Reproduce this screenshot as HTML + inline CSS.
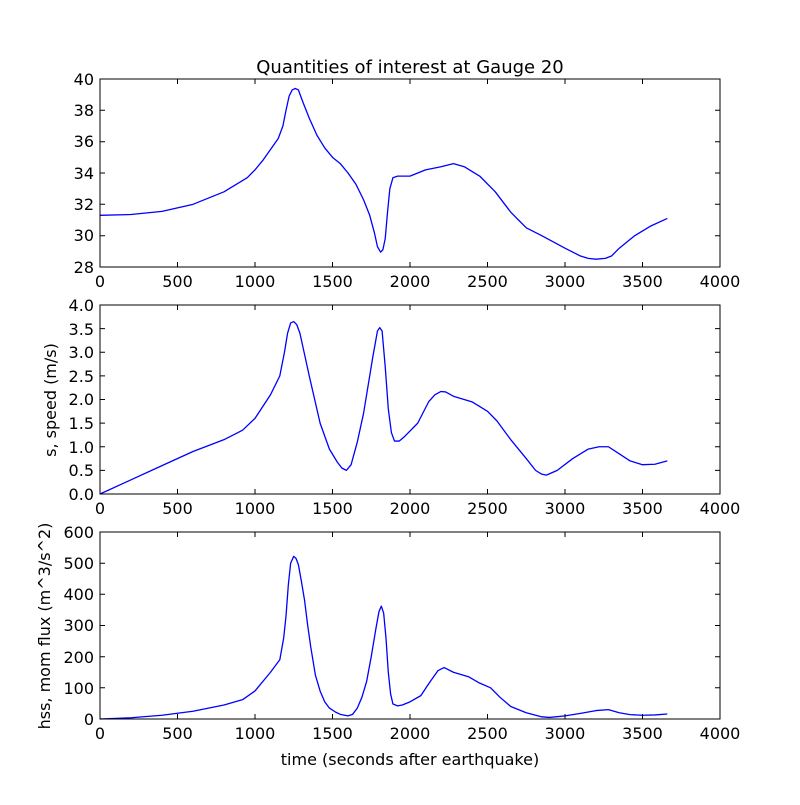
<!DOCTYPE html>
<html><head><meta charset="utf-8"><style>
body{margin:0;background:#fff}
svg{font-family:"DejaVu Sans","Liberation Sans",sans-serif}
</style></head><body>
<svg width="800" height="800" viewBox="0 0 800 800" xmlns="http://www.w3.org/2000/svg">
<rect width="800" height="800" fill="#fff"/>
<text x="410" y="73" font-size="18" text-anchor="middle">Quantities of interest at Gauge 20</text>

<!-- Panel 1 -->
<g transform="translate(100,267) scale(0.155,-15.6667) translate(0,-28)">
<polyline fill="none" stroke="#00f" stroke-width="1.3" vector-effect="non-scaling-stroke" stroke-linejoin="round"
points="0,31.3 200,31.35 400,31.55 600,32.0 800,32.8 950,33.7 1000,34.2 1050,34.8 1100,35.5 1150,36.2 1180,37.0 1200,38.0 1220,38.9 1240,39.3 1260,39.4 1280,39.3 1310,38.5 1350,37.5 1400,36.4 1450,35.6 1500,35.0 1550,34.6 1600,34.0 1650,33.3 1700,32.3 1740,31.3 1770,30.2 1790,29.3 1810,28.95 1825,29.1 1840,29.8 1855,31.5 1870,33.0 1890,33.7 1920,33.8 1960,33.8 2000,33.8 2050,34.0 2100,34.2 2200,34.4 2280,34.6 2350,34.4 2450,33.8 2550,32.8 2650,31.5 2700,31.0 2750,30.5 2850,30.0 3000,29.2 3100,28.7 3150,28.55 3200,28.5 3260,28.55 3300,28.7 3350,29.2 3450,30.0 3550,30.6 3660,31.1"/>
</g>
<rect x="100" y="79" width="620" height="188" fill="none" stroke="#000" stroke-width="1"/>
<g stroke="#000" stroke-width="1">
<path d="M177.5,267v-5M255,267v-5M332.5,267v-5M410,267v-5M487.5,267v-5M565,267v-5M642.5,267v-5M177.5,79v5M255,79v5M332.5,79v5M410,79v5M487.5,79v5M565,79v5M642.5,79v5"/>
<path d="M100,235.7h5M100,204.3h5M100,173h5M100,141.7h5M100,110.3h5M720,235.7h-5M720,204.3h-5M720,173h-5M720,141.7h-5M720,110.3h-5"/>
</g>
<g font-size="16" text-anchor="middle">
<text x="100" y="287">0</text><text x="177.5" y="287">500</text><text x="255" y="287">1000</text><text x="332.5" y="287">1500</text><text x="410" y="287">2000</text><text x="487.5" y="287">2500</text><text x="565" y="287">3000</text><text x="642.5" y="287">3500</text><text x="720" y="287">4000</text>
</g>
<g font-size="16" text-anchor="end">
<text x="94" y="273">28</text><text x="94" y="241">30</text><text x="94" y="210">32</text><text x="94" y="179">34</text><text x="94" y="147">36</text><text x="94" y="116">38</text><text x="94" y="85">40</text>
</g>

<!-- Panel 2 -->
<g transform="translate(100,494) scale(0.155,-47.25)">
<polyline fill="none" stroke="#00f" stroke-width="1.3" vector-effect="non-scaling-stroke" stroke-linejoin="round"
points="0,0 200,0.3 400,0.6 600,0.9 800,1.15 920,1.35 1000,1.6 1100,2.1 1160,2.5 1190,3.0 1210,3.4 1230,3.62 1250,3.65 1270,3.58 1290,3.4 1320,2.95 1350,2.5 1420,1.5 1480,0.95 1530,0.68 1560,0.55 1590,0.5 1620,0.62 1660,1.1 1700,1.7 1760,2.9 1790,3.45 1805,3.52 1820,3.45 1840,2.7 1860,1.8 1880,1.3 1900,1.12 1930,1.12 1960,1.2 2050,1.5 2120,1.95 2160,2.1 2200,2.17 2230,2.16 2280,2.07 2400,1.95 2500,1.75 2560,1.55 2650,1.15 2750,0.75 2810,0.5 2850,0.42 2880,0.4 2950,0.5 3050,0.75 3150,0.95 3220,1.0 3280,1.0 3350,0.85 3420,0.7 3500,0.62 3580,0.63 3660,0.7"/>
</g>
<rect x="100" y="305" width="620" height="189" fill="none" stroke="#000" stroke-width="1"/>
<g stroke="#000" stroke-width="1">
<path d="M177.5,494v-5M255,494v-5M332.5,494v-5M410,494v-5M487.5,494v-5M565,494v-5M642.5,494v-5M177.5,305v5M255,305v5M332.5,305v5M410,305v5M487.5,305v5M565,305v5M642.5,305v5"/>
<path d="M100,470.4h5M100,446.75h5M100,423.1h5M100,399.5h5M100,375.9h5M100,352.25h5M100,328.6h5M720,470.4h-5M720,446.75h-5M720,423.1h-5M720,399.5h-5M720,375.9h-5M720,352.25h-5M720,328.6h-5"/>
</g>
<g font-size="16" text-anchor="middle">
<text x="100" y="514">0</text><text x="177.5" y="514">500</text><text x="255" y="514">1000</text><text x="332.5" y="514">1500</text><text x="410" y="514">2000</text><text x="487.5" y="514">2500</text><text x="565" y="514">3000</text><text x="642.5" y="514">3500</text><text x="720" y="514">4000</text>
</g>
<g font-size="16" text-anchor="end">
<text x="94" y="500">0.0</text><text x="94" y="476">0.5</text><text x="94" y="453">1.0</text><text x="94" y="429">1.5</text><text x="94" y="405">2.0</text><text x="94" y="382">2.5</text><text x="94" y="358">3.0</text><text x="94" y="335">3.5</text><text x="94" y="311">4.0</text>
</g>
<text transform="translate(56,400) rotate(-90)" font-size="16" text-anchor="middle">s, speed (m/s)</text>

<!-- Panel 3 -->
<g transform="translate(100,719) scale(0.155,-0.31167)">
<polyline fill="none" stroke="#00f" stroke-width="1.3" vector-effect="non-scaling-stroke" stroke-linejoin="round"
points="0,0 200,4 400,12 600,25 800,45 920,62 1000,90 1100,150 1160,190 1185,260 1200,330 1215,430 1230,500 1250,522 1265,515 1280,495 1300,440 1320,380 1340,300 1360,230 1390,140 1420,90 1450,55 1480,35 1520,22 1550,15 1600,10 1630,15 1660,35 1690,70 1720,120 1750,200 1780,290 1800,345 1815,362 1830,340 1845,260 1860,150 1875,80 1890,48 1920,42 1950,45 2000,55 2070,75 2130,120 2180,155 2220,165 2280,150 2380,135 2450,115 2520,100 2580,70 2650,40 2750,20 2850,7 2900,5 3000,10 3100,18 3200,27 3280,30 3350,20 3420,14 3500,12 3580,13 3660,16"/>
</g>
<rect x="100" y="532" width="620" height="187" fill="none" stroke="#000" stroke-width="1"/>
<g stroke="#000" stroke-width="1">
<path d="M177.5,719v-5M255,719v-5M332.5,719v-5M410,719v-5M487.5,719v-5M565,719v-5M642.5,719v-5M177.5,532v5M255,532v5M332.5,532v5M410,532v5M487.5,532v5M565,532v5M642.5,532v5"/>
<path d="M100,687.8h5M100,656.7h5M100,625.5h5M100,594.3h5M100,563.2h5M720,687.8h-5M720,656.7h-5M720,625.5h-5M720,594.3h-5M720,563.2h-5"/>
</g>
<g font-size="16" text-anchor="middle">
<text x="100" y="739">0</text><text x="177.5" y="739">500</text><text x="255" y="739">1000</text><text x="332.5" y="739">1500</text><text x="410" y="739">2000</text><text x="487.5" y="739">2500</text><text x="565" y="739">3000</text><text x="642.5" y="739">3500</text><text x="720" y="739">4000</text>
</g>
<g font-size="16" text-anchor="end">
<text x="94" y="725">0</text><text x="94" y="694">100</text><text x="94" y="663">200</text><text x="94" y="631">300</text><text x="94" y="600">400</text><text x="94" y="569">500</text><text x="94" y="538">600</text>
</g>
<text transform="translate(50,626) rotate(-90)" font-size="16" text-anchor="middle">hss, mom flux (m^3/s^2)</text>
<text x="410" y="765" font-size="16" text-anchor="middle">time (seconds after earthquake)</text>
</svg>
</body></html>
